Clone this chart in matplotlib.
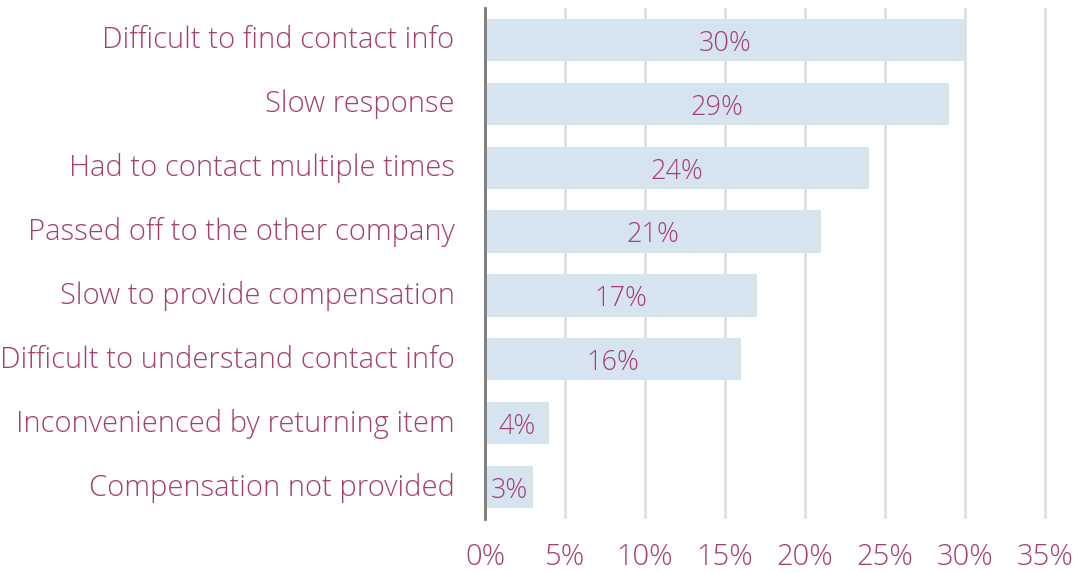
import matplotlib
matplotlib.use("Agg")
import matplotlib.pyplot as plt
from matplotlib.transforms import ScaledTranslation

categories = [
    "Difficult to find contact info",
    "Slow response",
    "Had to contact multiple times",
    "Passed off to the other company",
    "Slow to provide compensation",
    "Difficult to understand contact info",
    "Inconvenienced by returning item",
    "Compensation not provided",
]
values = [30, 29, 24, 21, 17, 16, 4, 3]
xticks = [0, 5, 10, 15, 20, 25, 30, 35]
xticklabels = ["0%", "5%", "10%", "15%", "20%", "25%", "30%", "35%"]

text_color = "#a3406f"
bar_color = "#d5e4ee"

plt.rcParams['font.family'] = ['Open Sans', 'DejaVu Sans']

fig = plt.figure(figsize=(10.77, 5.73), dpi=100)
ax = fig.add_axes([485/1077, 54/573, (1053-485)/1077, 511/573])

y = list(range(len(categories)))
ax.barh(y, values, height=0.66, color=bar_color, zorder=2)
for yi, v in zip(y, values):
    ax.text(v/2, yi + 0.06, f"{v}%", ha="center", va="center", fontsize=19.5,
            color=text_color, fontweight="light", zorder=3)

ax.set_ylim(len(categories) - 0.5, -0.5)
ax.set_xlim(0, 35.5)
ax.set_yticks(y)
ax.set_yticklabels(categories, fontsize=21, color=text_color, fontweight="light")
ax.set_xticks(xticks)
ax.set_xticklabels(xticklabels, fontsize=21, color=text_color, fontweight="light")
ax.tick_params(axis="y", length=0, pad=22)
ax.tick_params(axis="x", length=0, pad=17)
shift = ScaledTranslation(0, 3/100, fig.dpi_scale_trans)
for lbl in ax.get_yticklabels():
    lbl.set_transform(lbl.get_transform() + shift)

ax.grid(axis="x", color="#dcdcdc", linewidth=1.8, zorder=1)
ax.set_axisbelow(True)
for s in ["top", "right", "bottom"]:
    ax.spines[s].set_visible(False)
ax.spines["left"].set_color("#7a7a7a")
ax.spines["left"].set_linewidth(2)
ax.spines["left"].set_zorder(4)

fig.savefig("out.png", dpi=100)
